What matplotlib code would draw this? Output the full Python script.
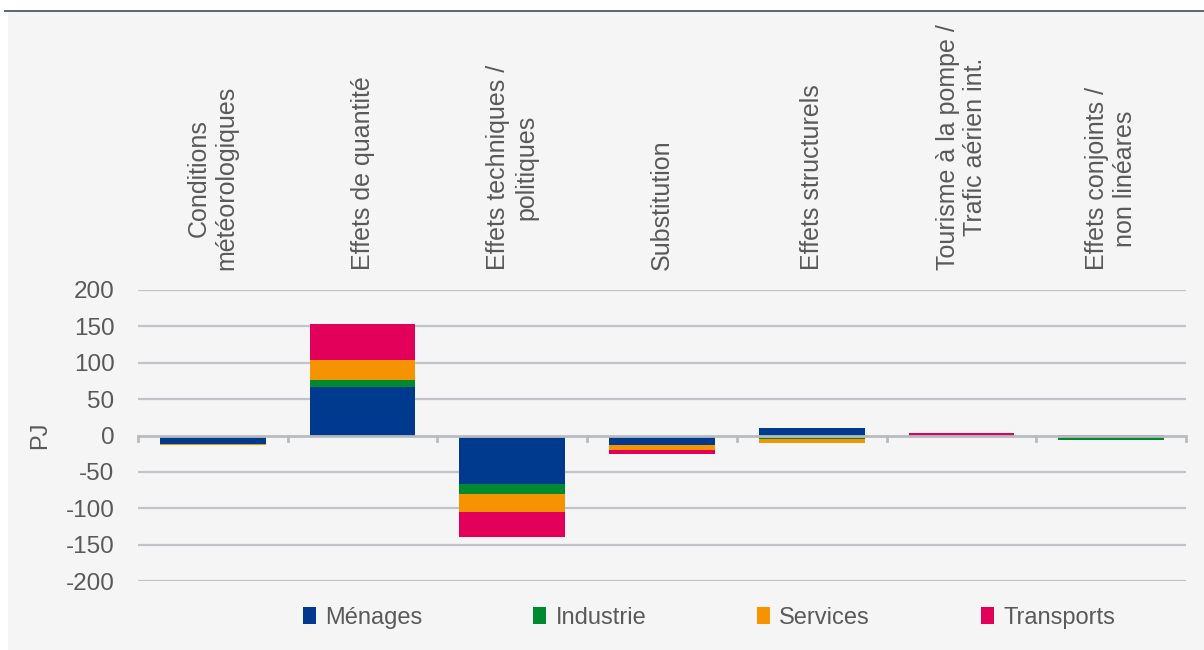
import matplotlib
matplotlib.use("Agg")
import matplotlib.pyplot as plt
from matplotlib.patches import Rectangle
import matplotlib.transforms as mtransforms
import numpy as np

plt.rcParams['font.family'] = ['Liberation Sans', 'DejaVu Sans']

# effects on energy consumption, PJ
categories = [
    "Conditions\nmétéorologiques",
    "Effets de quantité",
    "Effets techniques /\npolitiques",
    "Substitution",
    "Effets structurels",
    "Tourisme à la pompe /\nTrafic aérien int.",
    "Effets conjoints /\nnon linéares",
]
menages = [-11, 66, -66, -13.5, 10, 0, 0]
industrie = [0, 10.5, -14, 0, -5, 0, -5.5]
services = [-2.5, 27.5, -25, -6.5, -5.5, 0, 0]
transports = [0, 49, -35, -5, 0, 4, 1]

series = [("Ménages", menages, "#003a8f"),
          ("Industrie", industrie, "#008a30"),
          ("Services", services, "#f59300"),
          ("Transports", transports, "#e2005a")]

yticks = [-200, -150, -100, -50, 0, 50, 100, 150, 200]

txt = "#595959"
grid = "#c0c4c8"

fig = plt.figure(figsize=(12.04, 6.5), dpi=100)
fig.patch.set_facecolor("white")
# panel background and top rule
fig.patches.append(Rectangle((8 / 1204, 0), 1, 1 - 12 / 650, transform=fig.transFigure,
                             facecolor="#f5f5f5", edgecolor="none", zorder=-10))
fig.patches.append(Rectangle((4 / 1204, 1 - 12 / 650), 1, 2 / 650, transform=fig.transFigure,
                             facecolor="#5f6b73", edgecolor="none", zorder=-10))

ax = fig.add_axes([138 / 1204, 1 - 581 / 650, 1048 / 1204, 291 / 650])
ax.set_facecolor("none")

x = np.arange(len(categories))
pos_base = np.zeros(len(categories))
neg_base = np.zeros(len(categories))
handles = []
for name, vals, col in series:
    v = np.array(vals, dtype=float)
    b = np.where(v >= 0, pos_base, neg_base)
    h = ax.bar(x, v, width=0.707, bottom=b, color=col, linewidth=0, zorder=3, label=name)
    handles.append(h)
    pos_base += np.where(v >= 0, v, 0)
    neg_base += np.where(v < 0, v, 0)

ax.set_xlim(-0.5, len(categories) - 0.5)
ax.set_ylim(-200, 200)
ax.set_yticks(yticks)
ax.set_yticklabels([str(t) for t in yticks])
ax.tick_params(axis="y", length=0, labelsize=17.5, labelcolor=txt, pad=17)
ax.set_xticks([])
for t in yticks:
    if t != 0:
        ax.axhline(t, color=grid, lw=1.6, zorder=1)
ax.axhline(0, color="#b8bcc0", lw=2, zorder=4)
for b in np.arange(len(categories) + 1) - 0.5:
    ax.plot([b, b], [0, -8], color="#b8bcc0", lw=2, zorder=4, clip_on=False)
for s in ax.spines.values():
    s.set_visible(False)

ax.set_ylabel("PJ", fontsize=17, color=txt, labelpad=10)

trans = mtransforms.blended_transform_factory(ax.transData, ax.transAxes)
for i, c in enumerate(categories):
    ax.annotate(c, xy=(i, 1), xycoords=trans, xytext=(0, 20), textcoords="offset pixels",
                rotation=90, ha="center", va="bottom", multialignment="center",
                fontsize=18, color=txt)

fig.legend(handles=handles, loc="center", bbox_to_anchor=(709 / 1204, 1 - 618 / 650),
           ncol=4, frameon=False, fontsize=17, labelcolor=txt,
           handlelength=0.55, handleheight=0.75, handletextpad=0.4, columnspacing=4.68)

fig.savefig("out.png", dpi=100)
